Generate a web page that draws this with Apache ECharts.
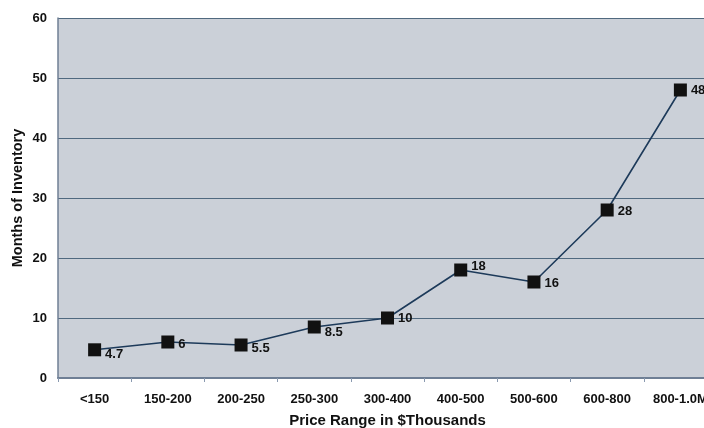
<!DOCTYPE html>
<html>
<head>
<meta charset="utf-8">
<script src="https://cdn.jsdelivr.net/npm/echarts@6/dist/echarts.min.js"></script>
<style>
  html, body { margin: 0; padding: 0; background: #fff; }
  #chart { width: 704px; height: 428px; }
</style>
</head>
<body>
<div id="chart"></div>
<script>
// Price ranges (in $ thousands) and months of housing inventory
const priceRanges = ['<150', '150-200', '200-250', '250-300', '300-400', '400-500', '500-600', '600-800', '800-1.0M'];
const monthsOfInventory = [4.7, 6, 5.5, 8.5, 10, 18, 16, 28, 48];
const yTicks = [0, 10, 20, 30, 40, 50, 60];

// per-point label nudges [dx, dy]
const labelNudge = [[0, 5], [0, 2], [0, 3], [0, 5], [0, 0], [0, -4], [0, 1], [0, 1], [0, 0]];

const font = 'Liberation Sans, Arial, sans-serif';

const chart = echarts.init(document.getElementById('chart'));
chart.setOption({
  animation: false,
  backgroundColor: '#ffffff',
  grid: {
    left: 58, top: 18, width: 659, height: 360,
    outerBoundsMode: 'none',
    containLabel: false,
    show: true, backgroundColor: '#cbd0d8', borderWidth: 0
  },
  xAxis: {
    type: 'category',
    data: priceRanges,
    boundaryGap: true,
    name: 'Price Range in $Thousands',
    nameLocation: 'middle',
    nameGap: 35,
    nameTextStyle: { fontFamily: font, fontWeight: 'bold', fontSize: 15, color: '#111' },
    axisLine: { lineStyle: { color: '#6f7f95', width: 2 } },
    axisTick: { show: true, alignWithLabel: false, length: 4, lineStyle: { color: '#8a9ab0' } },
    axisLabel: { fontFamily: font, fontWeight: 'bold', fontSize: 13, color: '#111', margin: 15 }
  },
  yAxis: {
    type: 'value',
    min: yTicks[0], max: yTicks[yTicks.length - 1], interval: 10,
    name: 'Months of Inventory',
    nameLocation: 'middle',
    nameGap: 33,
    nameMoveOverlap: false,
    nameTextStyle: { fontFamily: font, fontWeight: 'bold', fontSize: 14.5, color: '#111' },
    axisLine: { show: true, lineStyle: { color: '#6f7f95', width: 1.5 } },
    axisTick: { show: false },
    axisLabel: { fontFamily: font, fontWeight: 'bold', fontSize: 13, color: '#111', margin: 11 },
    splitLine: { lineStyle: { color: '#50697f', width: 1.2 } }
  },
  series: [{
    type: 'line',
    data: monthsOfInventory.map((v, i) => ({
      value: v,
      label: { offset: labelNudge[i] }
    })),
    symbol: 'rect',
    symbolSize: 13,
    itemStyle: { color: '#111' },
    lineStyle: { color: '#1d3a5a', width: 1.6 },
    label: {
      show: true,
      position: 'right',
      distance: 4,
      fontFamily: font,
      fontWeight: 'bold',
      fontSize: 13,
      color: '#111'
    }
  }]
});
</script>
</body>
</html>
